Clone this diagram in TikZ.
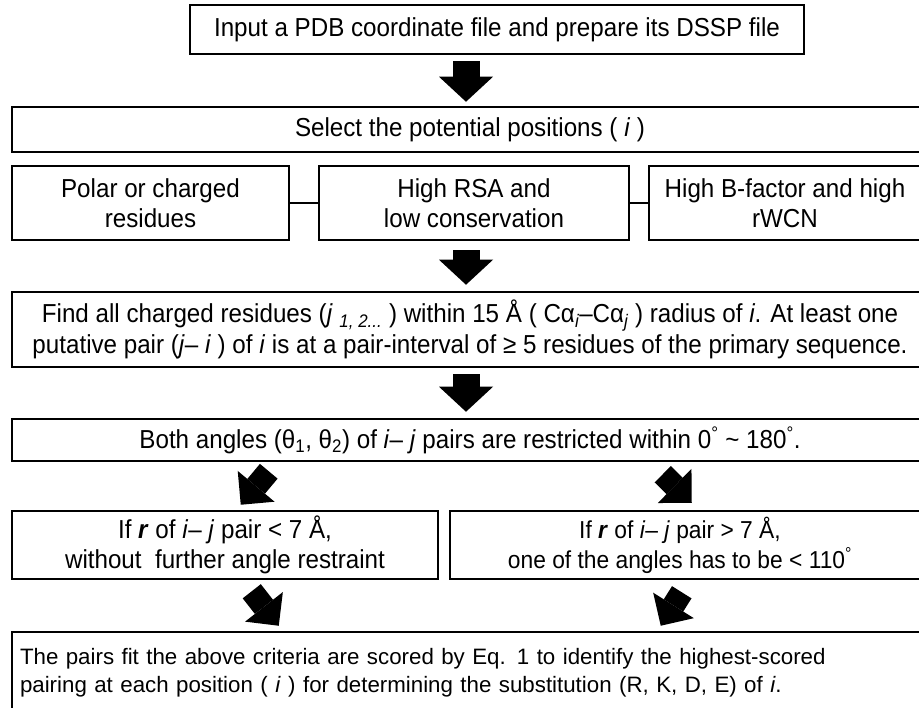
\documentclass[tikz,border=0pt]{standalone}
\usepackage{fontspec}
\setmainfont{Liberation Sans}
\newfontfamily\condfont[FakeStretch=0.93]{Liberation Sans}
\usetikzlibrary{arrows.meta,calc}
\begin{document}
\begin{tikzpicture}[x=1pt,y=-1pt,
  box/.style={draw, line width=2.5pt, inner sep=0pt, align=center,
    font=\condfont\fontsize{26}{30.5}\selectfont},
  txt/.style={inner sep=0pt, align=center, font=\condfont\fontsize{24.5}{30}\selectfont},
  straightarr/.style={line width=27pt, -{Triangle[length=25pt,width=54pt,line width=0pt]}},
  slantarr/.style={line width=23pt, -{Triangle[length=24pt,width=48pt,line width=0pt]}},
  link/.style={line width=2.5pt}
]
\useasboundingbox (0,0) rectangle (919,708);
\clip (0,0) rectangle (919,708);

% boxes
\node[box, minimum width=614, minimum height=49] (b1) at (497,29.5)
  {Input a PDB coordinate file and prepare its DSSP file};
\node[box, minimum width=916, minimum height=45] (b2) at (470,129.5)
  {Select the potential positions ( \textit{i} )};
\node[box, minimum width=277, minimum height=74] (bA) at (150.5,203)
  {Polar or charged\\residues};
\node[box, minimum width=310, minimum height=74] (bB) at (474,203)
  {High RSA and\\low conservation};
\node[box, minimum width=272, minimum height=74] (bC) at (785,203)
  {High B-factor and high\\rWCN};
\node[box, minimum width=916, minimum height=75] (b4) at (470,329.5)
  {Find all charged residues (\textit{j} \textsubscript{\itshape 1, 2...} ) within 15 Å ( Cα\textsubscript{\itshape i}–Cα\textsubscript{\itshape j} ) radius of \textit{i}. At least one\\
   putative pair (\textit{j}– \textit{i} ) of \textit{i} is at a pair-interval of ≥ 5 residues of the primary sequence.};
\node[box, minimum width=916, minimum height=42] (b5) at (470,440)
  {Both angles (θ\textsubscript{1}, θ\textsubscript{2}) of \textit{i}– \textit{j} pairs are restricted within 0\textsuperscript{°} \textasciitilde{} 180\textsuperscript{°}.};
\node[box, minimum width=426, minimum height=68] (b6l) at (225,545)
  {If \textbf{\textit{r}} of \textit{i}– \textit{j} pair < 7 Å,\\without\ \ further angle restraint};
\node[box, minimum width=478, minimum height=68] (b6r) at (689,545) {};
\node[txt] (t6r) at (680,545)
  {If \textbf{\textit{r}} of \textit{i}– \textit{j} pair > 7 Å,\\one of the angles has to be < 110\textsuperscript{°}};
\node[box, minimum width=916, minimum height=82, text width=900, align=left,
      font=\fontsize{22.3}{28}\selectfont] (b7) at (470,673)
  {The pairs fit the above criteria are scored by Eq. 1 to identify the highest-scored\\
   pairing at each position ( \textit{i} ) for determining the substitution (R, K, D, E) of \textit{i}.};

% links between criteria
\draw[link] (bA.east) -- (bB.west);
\draw[link] (bB.east) -- (bC.west);

% block arrows
\coordinate (ax) at (466,0);
\draw[straightarr] ([yshift=-6pt]ax |- b1.south) -- ([yshift=4pt]ax |- b2.north);
\draw[straightarr] ([yshift=-9pt]ax |- bA.south) -- ([yshift=6pt]ax |- b4.north);
\draw[straightarr] ([yshift=-6pt]ax |- b4.south) -- ([yshift=6pt]ax |- b5.north);

\draw[slantarr] ($(b5.south west)+(258,9)$) -- ($(b6l.north west)+(230,-5)$);
\draw[slantarr] ($(b5.south west)+(652,12)$) -- ($(b6r.north west)+(243,-7)$);
\draw[slantarr] ($(b6l.south west)+(241,11)$) -- ($(b7.north west)+(268,-5)$);
\draw[slantarr] ($(b6r.south west)+(233,12)$) -- ($(b7.north west)+(650,-5)$);
\end{tikzpicture}
\end{document}
